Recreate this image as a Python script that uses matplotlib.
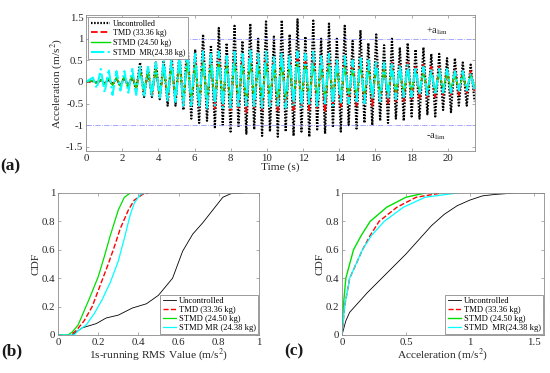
import numpy as np
import matplotlib
matplotlib.use("Agg")
import matplotlib.pyplot as plt

plt.rcParams['font.family'] = ['Liberation Serif', 'DejaVu Serif']
plt.rcParams['mathtext.fontset'] = 'stix'

# ---------------- data: (a) acceleration time history (peak values per cycle) ----------------
cycle_t0 = 0.38      # time of first positive peak (s)
cycle_T = 0.435      # cycle period (s)

unc_pos = [0.02, 0.04, 0.06, 0.08, 0.12, 0.15, 0.45, 0.3, 0.45, 0.5, 0.6, 0.7,
           1.0, 0.75, 1.1, 0.85, 1.25, 0.9, 1.3, 0.95, 1.35, 1.0, 1.4, 1.05, 1.43, 1.1,
           1.45, 1.05, 1.42, 1.0, 1.35, 1.0, 1.3, 0.95, 1.2, 0.9, 1.1, 0.85, 1.0, 0.8,
           0.9, 0.75, 0.8, 0.65, 0.65, 0.55, 0.55, 0.45, 0.4]
unc_neg = [-0.02, -0.04, -0.06, -0.1, -0.12, -0.2, -0.35, -0.35, -0.4, -0.55, -0.55, -0.65,
           -0.85, -0.95, -0.9, -1.05, -1.0, -1.15, -1.05, -1.2, -1.1, -1.25, -1.15, -1.27, -1.15,
           -1.25, -1.15, -1.27, -1.1, -1.2, -1.05, -1.15, -1.0, -1.08, -0.95, -1.0, -0.9, -0.95,
           -0.85, -0.9, -0.8, -0.85, -0.75, -0.8, -0.65, -0.7, -0.55, -0.55, -0.45]

tmd_pos = [0.02, 0.04, 0.06, 0.08, 0.1, 0.12, 0.3, 0.2, 0.3, 0.35, 0.45, 0.5,
           0.6, 0.55, 0.6, 0.55, 0.6, 0.5, 0.6, 0.55, 0.65, 0.6,
           0.65, 0.55, 0.6, 0.5, 0.6, 0.55, 0.65, 0.55, 0.6, 0.5,
           0.55, 0.45, 0.55, 0.45, 0.5, 0.4, 0.45, 0.4, 0.45, 0.35,
           0.4, 0.35, 0.35, 0.3, 0.3, 0.25, 0.25]
tmd_neg = [-0.02, -0.04, -0.06, -0.08, -0.1, -0.15, -0.25, -0.3, -0.35, -0.4, -0.45, -0.5,
           -0.55, -0.6, -0.55, -0.65, -0.55, -0.65, -0.6, -0.7, -0.6, -0.65,
           -0.6, -0.7, -0.6, -0.65, -0.55, -0.65, -0.6, -0.7, -0.55, -0.6,
           -0.5, -0.55, -0.5, -0.55, -0.45, -0.5, -0.45, -0.45, -0.4, -0.4,
           -0.35, -0.35, -0.3, -0.3, -0.3, -0.25, -0.25]

stmd_pos = [0.03, 0.05, 0.08, 0.1, 0.12, 0.15, 0.25, 0.25, 0.3, 0.3, 0.35, 0.4,
            0.45, 0.4, 0.45, 0.4, 0.45, 0.4, 0.45, 0.4, 0.45, 0.4,
            0.45, 0.4, 0.45, 0.4, 0.45, 0.4, 0.4, 0.35, 0.4, 0.35,
            0.35, 0.3, 0.35, 0.3, 0.3, 0.3, 0.3, 0.25, 0.25, 0.25,
            0.2, 0.2, 0.2, 0.2, 0.15, 0.15, 0.15]
stmd_neg = [-0.03, -0.05, -0.08, -0.1, -0.12, -0.15, -0.2, -0.25, -0.3, -0.3, -0.35, -0.4,
            -0.4, -0.45, -0.4, -0.45, -0.4, -0.45, -0.4, -0.45, -0.4, -0.45,
            -0.4, -0.45, -0.4, -0.45, -0.4, -0.4, -0.35, -0.4, -0.35, -0.35,
            -0.3, -0.35, -0.3, -0.3, -0.3, -0.25, -0.25, -0.25, -0.2, -0.2,
            -0.2, -0.2, -0.15, -0.15, -0.15, -0.15, -0.1]

mr_pos = [0.1, 0.3, 0.3, 0.25, 0.25, 0.3, 0.35, 0.35, 0.45, 0.5, 0.55, 0.6,
          0.75, 0.65, 0.7, 0.65, 0.7, 0.6, 0.7, 0.65, 0.75, 0.65,
          0.7, 0.6, 0.7, 0.6, 0.7, 0.65, 0.7, 0.6, 0.65, 0.55,
          0.6, 0.5, 0.55, 0.5, 0.5, 0.45, 0.45, 0.4, 0.4, 0.35,
          0.35, 0.3, 0.3, 0.3, 0.25, 0.25, 0.2]
mr_neg = [-0.15, -0.25, -0.3, -0.2, -0.25, -0.3, -0.35, -0.35, -0.4, -0.45, -0.5, -0.55,
          -0.55, -0.6, -0.6, -0.55, -0.6, -0.6, -0.6, -0.55, -0.6, -0.6,
          -0.6, -0.55, -0.6, -0.55, -0.6, -0.55, -0.6, -0.5, -0.55, -0.5,
          -0.5, -0.45, -0.5, -0.4, -0.45, -0.4, -0.4, -0.35, -0.35, -0.3,
          -0.3, -0.3, -0.25, -0.25, -0.2, -0.2, -0.2]

a_lim = 1.0

# ---------------- data: (b) CDF of 1s-running RMS ----------------
b_unc_x = [0.07, 0.12, 0.19, 0.24, 0.30, 0.37, 0.44, 0.50, 0.57, 0.62, 0.67, 0.72, 0.77, 0.82, 0.86, 0.92]
b_unc_y = [0.0, 0.05, 0.08, 0.12, 0.14, 0.19, 0.22, 0.28, 0.40, 0.59, 0.71, 0.79, 0.88, 0.97, 0.995, 1.0]
b_tmd_x = [0.0, 0.06, 0.09, 0.13, 0.17, 0.21, 0.25, 0.28, 0.31, 0.35, 0.38, 0.42, 0.45]
b_tmd_y = [0.0, 0.0, 0.03, 0.10, 0.20, 0.35, 0.50, 0.62, 0.75, 0.88, 0.95, 0.99, 1.0]
b_stmd_x = [0.0, 0.05, 0.07, 0.10, 0.13, 0.16, 0.20, 0.23, 0.26, 0.30, 0.33, 0.36]
b_stmd_y = [0.0, 0.0, 0.02, 0.07, 0.17, 0.27, 0.41, 0.55, 0.70, 0.88, 0.97, 1.0]
b_mr_x = [0.0, 0.08, 0.10, 0.14, 0.18, 0.22, 0.26, 0.30, 0.33, 0.36, 0.38, 0.41, 0.43]
b_mr_y = [0.0, 0.0, 0.03, 0.07, 0.15, 0.25, 0.37, 0.52, 0.68, 0.85, 0.93, 0.99, 1.0]

# ---------------- data: (c) CDF of acceleration ----------------
c_unc_x = [0.0, 0.03, 0.06, 0.10, 0.20, 0.30, 0.40, 0.50, 0.60, 0.70, 0.80, 0.90, 1.00, 1.10, 1.20, 1.35, 1.58]
c_unc_y = [0.0, 0.10, 0.16, 0.20, 0.30, 0.39, 0.48, 0.57, 0.67, 0.77, 0.85, 0.91, 0.95, 0.98, 0.99, 1.0, 1.0]
c_tmd_x = [0.0, 0.02, 0.06, 0.16, 0.22, 0.29, 0.43, 0.58, 0.78]
c_tmd_y = [0.0, 0.20, 0.40, 0.60, 0.70, 0.80, 0.90, 0.97, 1.0]
c_stmd_x = [0.0, 0.01, 0.03, 0.09, 0.15, 0.22, 0.35, 0.50, 0.65]
c_stmd_y = [0.0, 0.20, 0.40, 0.60, 0.70, 0.80, 0.90, 0.97, 1.0]
c_mr_x = [0.0, 0.02, 0.06, 0.16, 0.23, 0.33, 0.48, 0.65, 0.90]
c_mr_y = [0.0, 0.20, 0.40, 0.60, 0.70, 0.80, 0.90, 0.97, 1.0]

labels_a = ['Uncontrolled', 'TMD (33.36 kg)', 'STMD (24.50 kg)', 'STMD  MR(24.38 kg)']
labels_b = ['Uncontrolled', 'TMD (33.36 kg)', 'STMD (24.50 kg)', 'STMD MR (24.38 kg)']
labels_c = ['Uncontrolled', 'TMD (33.36 kg)', 'STMD (24.50 kg)', 'STMD  MR(24.38 kg)']

# ---------------- styles ----------------
C_UNC = '#000000'
C_TMD = '#ff0000'
C_STMD = '#00e000'
C_MR = '#00ffff'
C_LIM = '#9999ff'
SPINE = '#8c8c8c'
TXT = '#262626'
TICK_FS = 7.8
LAB_FS = 8.2
LEG_FS = 6.1


def series(pos, neg):
    n = len(pos)
    k = np.arange(n)
    tp = cycle_t0 + cycle_T * k
    tn = tp + cycle_T / 2
    t = np.empty(2 * n)
    v = np.empty(2 * n)
    t[0::2], t[1::2] = tp, tn
    v[0::2], v[1::2] = pos, neg
    return np.concatenate([[0.0], t]), np.concatenate([[0.0], v])


def style_axes(ax):
    for s in ax.spines.values():
        s.set_color(SPINE)
        s.set_linewidth(0.6)
    ax.tick_params(direction='in', length=2.5, width=0.5, color=SPINE,
                   labelsize=TICK_FS, labelcolor=TXT, top=True, right=True, pad=2)


def style_legend(lg):
    lg.get_frame().set_edgecolor(SPINE)
    lg.get_frame().set_linewidth(0.6)


fig = plt.figure(figsize=(5.5, 3.73), dpi=100)

# (a)
axa = fig.add_axes([86 / 550, 1 - 151 / 373, (475 - 86) / 550, (151 - 15) / 373])
style_axes(axa)
for (p, n), c, ls, lw, lab in [((unc_pos, unc_neg), C_UNC, (0, (0.7, 0.7)), 1.6, labels_a[0]),
                                ((tmd_pos, tmd_neg), C_TMD, '--', 1.3, labels_a[1]),
                                ((stmd_pos, stmd_neg), C_STMD, '-', 1.0, labels_a[2]),
                                ((mr_pos, mr_neg), C_MR, '-.', 1.5, labels_a[3])]:
    t, v = series(p, n)
    axa.plot(t, v, color=c, ls=ls, lw=lw, label=lab)
axa.axhline(a_lim, color=C_LIM, ls='-.', lw=0.6)
axa.axhline(-a_lim, color=C_LIM, ls='-.', lw=0.6)
axa.text(18.8, 1.12, r'+a$_{\rm lim}$', fontsize=7.5, color=TXT)
axa.text(18.8, -1.3, r'-a$_{\rm lim}$', fontsize=7.5, color=TXT)
axa.set_xlim(0, 21.5)
axa.set_ylim(-1.6, 1.55)
axa.set_xticks(np.arange(0, 21, 2))
axa.set_yticks([-1.5, -1, -0.5, 0, 0.5, 1, 1.5])
axa.set_yticklabels(['-1.5', '-1', '-0.5', '0', '0.5', '1', '1.5'])
axa.set_xlabel('Time (s)', fontsize=LAB_FS, color=TXT, labelpad=0)
axa.set_ylabel(r'Acceleration (m/s$^2$)', fontsize=LAB_FS, color=TXT, labelpad=1)
lg = axa.legend(loc='upper left', fontsize=5.9, handlelength=2.4, borderpad=0.3,
                labelspacing=0.22, handletextpad=0.3, fancybox=False, framealpha=1,
                borderaxespad=0.25)
style_legend(lg)

# (b)
axb = fig.add_axes([58 / 550, 1 - 335 / 373, (259 - 58) / 550, (335 - 193) / 373])
style_axes(axb)
axb.plot(b_unc_x, b_unc_y, color=C_UNC, lw=0.6, label=labels_b[0])
axb.plot(b_tmd_x, b_tmd_y, color=C_TMD, ls='--', lw=1.0, label=labels_b[1])
axb.plot(b_stmd_x, b_stmd_y, color=C_STMD, lw=0.9, label=labels_b[2])
axb.plot(b_mr_x, b_mr_y, color=C_MR, lw=0.9, label=labels_b[3])
axb.set_xlim(0, 1)
axb.set_ylim(0, 1)
axb.set_xticks(np.arange(0, 1.01, 0.2))
axb.set_xticklabels(['0', '0.2', '0.4', '0.6', '0.8', '1'])
axb.set_yticks(np.arange(0, 1.01, 0.2))
axb.set_yticklabels(['0', '0.2', '0.4', '0.6', '0.8', '1'])
axb.set_xlabel(r'1s-running RMS Value (m/s$^2$)', fontsize=LAB_FS, color=TXT, labelpad=0)
axb.set_ylabel('CDF', fontsize=LAB_FS, color=TXT, labelpad=1)
lg = axb.legend(loc='lower right', fontsize=LEG_FS, handlelength=1.6, borderpad=0.25,
                labelspacing=0.1, handletextpad=0.3, fancybox=False, framealpha=1,
                borderaxespad=0.15)
style_legend(lg)

# (c)
axc = fig.add_axes([342 / 550, 1 - 335 / 373, (544 - 342) / 550, (335 - 193) / 373])
style_axes(axc)
axc.plot(c_unc_x, c_unc_y, color=C_UNC, lw=0.6, label=labels_c[0])
axc.plot(c_tmd_x, c_tmd_y, color=C_TMD, ls='--', lw=1.0, label=labels_c[1])
axc.plot(c_stmd_x, c_stmd_y, color=C_STMD, lw=1.0, label=labels_c[2])
axc.plot(c_mr_x, c_mr_y, color=C_MR, lw=0.9, label=labels_c[3])
axc.set_xlim(0, 1.58)
axc.set_ylim(0, 1)
axc.set_xticks([0, 0.5, 1, 1.5])
axc.set_xticklabels(['0', '0.5', '1', '1.5'])
axc.set_yticks(np.arange(0, 1.01, 0.2))
axc.set_yticklabels(['0', '0.2', '0.4', '0.6', '0.8', '1'])
axc.set_xlabel(r'Acceleration (m/s$^2$)', fontsize=LAB_FS, color=TXT, labelpad=0)
axc.set_ylabel('CDF', fontsize=LAB_FS, color=TXT, labelpad=1)
lg = axc.legend(loc='lower right', fontsize=LEG_FS, handlelength=1.6, borderpad=0.25,
                labelspacing=0.1, handletextpad=0.3, fancybox=False, framealpha=1,
                borderaxespad=0.15)
style_legend(lg)

# panel labels
fig.text(0 / 550, 1 - 166 / 373, '(a)', fontsize=12.5, fontweight='bold', va='center', color='#1a1a1a')
fig.text(1 / 550, 1 - 351 / 373, '(b)', fontsize=12.5, fontweight='bold', va='center', color='#1a1a1a')
fig.text(284 / 550, 1 - 351 / 373, '(c)', fontsize=12.5, fontweight='bold', va='center', color='#1a1a1a')

fig.savefig('out.png', dpi=100)
